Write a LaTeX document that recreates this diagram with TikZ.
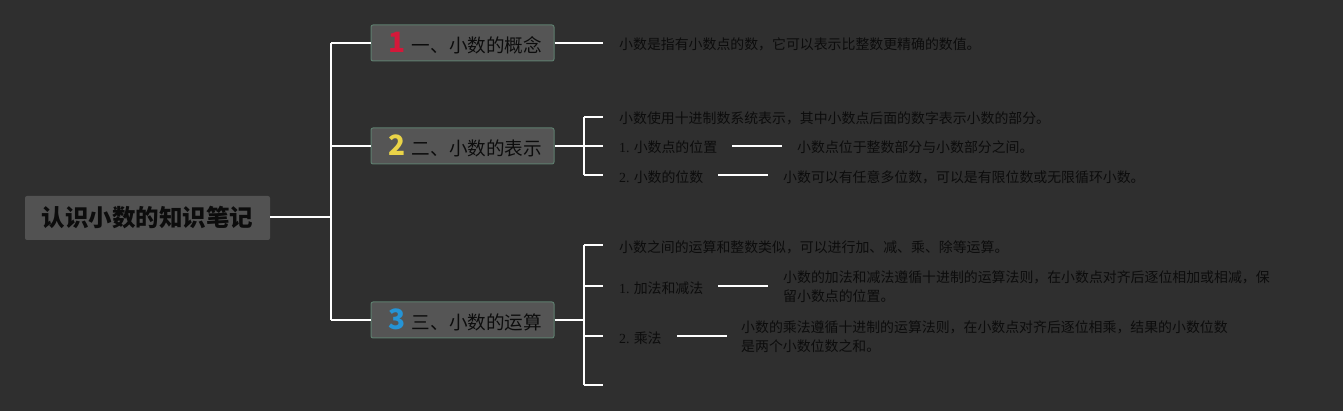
\documentclass[tikz,border=0pt]{standalone}
\usepackage{fontspec}
\setmainfont{Noto Sans CJK SC}
\newfontfamily\numfont{Liberation Serif}
\definecolor{bg}{HTML}{2F2F2F}
\definecolor{rootfill}{HTML}{525252}
\definecolor{boxfill}{HTML}{555555}
\definecolor{boxedge}{HTML}{5E7E6E}
\definecolor{txt}{HTML}{0C0C0C}
\definecolor{nred}{HTML}{D4183A}
\definecolor{nyel}{HTML}{EAD448}
\definecolor{nblue}{HTML}{2594D6}
\tikzset{
  conn/.style={draw=white, line width=1.7pt},
  rootbox/.style={fill=rootfill, rounded corners=2pt, minimum width=245pt, minimum height=44pt, inner sep=0pt, text=txt, font=\fontsize{23.5}{26}\selectfont\bfseries},
  topicbox/.style={fill=boxfill, draw=boxedge, line width=1pt, rounded corners=2pt, minimum width=183pt, minimum height=36pt, inner sep=0pt, text=txt, font=\fontsize{18.6}{20}\selectfont},
  leaf/.style={anchor=west, inner sep=0pt, text=txt, font=\fontsize{13.9}{19}\selectfont, align=left}
}
\newcommand{\bignum}[2]{\textcolor{#1}{\fontsize{28}{28}\selectfont\bfseries #2}}
\begin{document}
\begin{tikzpicture}[x=1pt,y=-1pt]
\fill[bg] (0,0) rectangle (1343,411);
\useasboundingbox (0,0) rectangle (1343,411);
% root
\node[rootbox] (root) at (147.5,218) {认识小数的知识笔记};
% topics
\node[topicbox] (t1) at (462.5,43) {\hspace{6pt}\bignum{nred}{1}\hspace{6pt}一、小数的概念};
\node[topicbox] (t2) at (462.5,146) {\hspace{6pt}\bignum{nyel}{2}\hspace{6pt}二、小数的表示};
\node[topicbox] (t3) at (462.5,320) {\hspace{6pt}\bignum{nblue}{3}\hspace{6pt}三、小数的运算};
% trunk
\coordinate (j0) at (331,217);
\draw[conn] (root.east |- j0) -- (j0);
\draw[conn] (331,43) -- (331,320);
\draw[conn] (331,43) -- (t1.west);
\draw[conn] (331,146) -- (t2.west);
\draw[conn] (331,320) -- (t3.west);
% topic 1
\coordinate (a1) at (603,43);
\draw[conn] (t1.east) -- (a1);
\node[leaf] (l1) at (619,44) {小数是指有小数点的数，它可以表示比整数更精确的数值。};
% topic 2
\draw[conn] (t2.east) -- (584,146);
\draw[conn] (584,117) -- (584,175);
\coordinate (b1) at (603,117);
\coordinate (b2) at (603,146);
\coordinate (b3) at (603,175);
\draw[conn] (584,117) -- (b1);
\draw[conn] (584,146) -- (b2);
\draw[conn] (584,175) -- (b3);
\node[leaf] (l2a) at (619,118) {小数使用十进制数系统表示，其中小数点后面的数字表示小数的部分。};
\node[leaf] (l2b) at (619,147) {{\numfont 1.} 小数点的位置};
\node[leaf] (l2bd) at (797,147) {小数点位于整数部分与小数部分之间。};
\draw[conn] (732,146) -- (782,146);
\node[leaf] (l2c) at (619,177) {{\numfont 2.} 小数的位数};
\node[leaf] (l2cd) at (783,177) {小数可以有任意多位数，可以是有限位数或无限循环小数。};
\draw[conn] (718,175) -- (768,175);
% topic 3
\draw[conn] (t3.east) -- (584,320);
\draw[conn] (584,245) -- (584,385);
\coordinate (c1) at (603,245);
\coordinate (c2) at (603,286);
\coordinate (c3) at (603,336);
\coordinate (c4) at (603,385);
\draw[conn] (584,245) -- (c1);
\draw[conn] (584,286) -- (c2);
\draw[conn] (584,336) -- (c3);
\draw[conn] (584,385) -- (c4);
\node[leaf] (l3a) at (619,247) {小数之间的运算和整数类似，可以进行加、减、乘、除等运算。};
\node[leaf] (l3b) at (619,288) {{\numfont 1.} 加法和减法};
\node[leaf] (l3bd) at (783,287) {小数的加法和减法遵循十进制的运算法则，在小数点对齐后逐位相加或相减，保\\留小数点的位置。};
\draw[conn] (718,286) -- (768,286);
\node[leaf] (l3c) at (619,338) {{\numfont 2.} 乘法};
\node[leaf] (l3cd) at (741,337) {小数的乘法遵循十进制的运算法则，在小数点对齐后逐位相乘，结果的小数位数\\是两个小数位数之和。};
\draw[conn] (677,336) -- (727,336);
\end{tikzpicture}
\end{document}
